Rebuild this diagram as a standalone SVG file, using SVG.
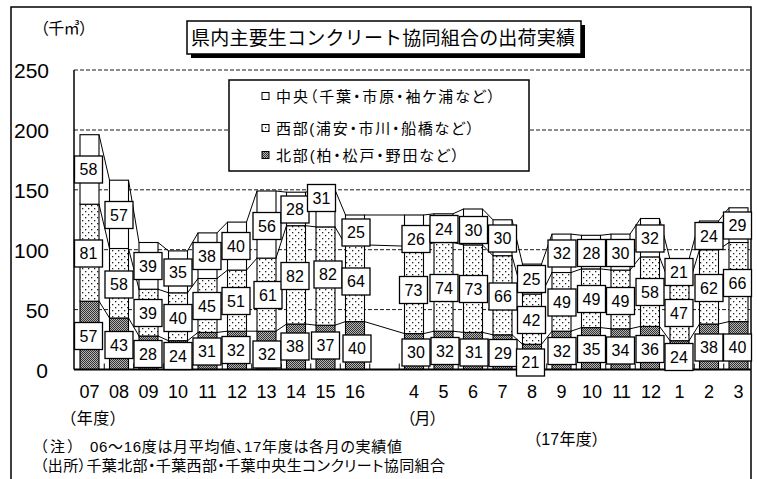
<svg xmlns="http://www.w3.org/2000/svg" width="757" height="479" viewBox="0 0 757 479">
<style>
.jp{font-family:"Liberation Sans","Noto Sans CJK JP",sans-serif;fill:#000}
.pa{font-feature-settings:"palt"}
.ax{font-family:"Liberation Sans",Arial,sans-serif;fill:#000}
.grid{stroke:#000;stroke-width:0.9;stroke-dasharray:4 2;fill:none}
.bar rect{stroke:#000;stroke-width:1.1}
.d{fill:url(#hatch)}
.m{fill:url(#dots)}
.w{fill:#fff}
.lb rect{fill:#fff;stroke:#000;stroke-width:1.3}
.lb text{font-family:"Liberation Sans",Arial,sans-serif;font-size:16px;text-anchor:middle;fill:#000}
.sl{stroke:#000;stroke-width:1;fill:none}
</style>
<defs>
<pattern id="dots" width="6" height="6" patternUnits="userSpaceOnUse">
<rect width="6" height="6" fill="#fff"/>
<rect x="1" y="1" width="1.3" height="1.3" fill="#222"/>
<rect x="4" y="4" width="1.3" height="1.3" fill="#222"/>
</pattern>
<pattern id="hatch" width="2" height="2" patternUnits="userSpaceOnUse">
<rect width="2" height="2" fill="#b4b4b4"/>
<rect width="1" height="1" fill="#333"/>
<rect x="1" y="1" width="1" height="1" fill="#333"/>
</pattern>
</defs>
<rect x="0" y="0" width="757" height="479" fill="#fff"/>
<rect x="11" y="7" width="740" height="490" fill="#fff" stroke="#000" stroke-width="1.5"/>

<!-- gridlines -->
<g id="gridlines">
<line class="grid" x1="74" y1="70" x2="751" y2="70"/>
<line class="grid" x1="74" y1="130" x2="751" y2="130"/>
<line class="grid" x1="74" y1="189.8" x2="751" y2="189.8"/>
<line class="grid" x1="74" y1="249.7" x2="751" y2="249.7"/>
<line class="grid" x1="74" y1="309.6" x2="751" y2="309.6"/>
</g>

<!-- unit and y labels -->
<text class="jp" x="33" y="34" font-size="16" textLength="62">（千㎥）</text>
<g class="ax" font-size="21" text-anchor="end">
<text x="49" y="78">250</text>
<text x="49" y="138">200</text>
<text x="49" y="197.5">150</text>
<text x="49" y="257.5">100</text>
<text x="49" y="317.5">50</text>
<text x="48" y="377.5">0</text>
</g>

<!-- title -->
<g id="title">
<rect x="191" y="25" width="394" height="33" fill="#000"/>
<rect x="187" y="21" width="394" height="33" fill="#fff" stroke="#000" stroke-width="1.5"/>
<text class="jp" x="191" y="44.7" font-size="19" textLength="384">県内主要生コンクリート協同組合の出荷実績</text>
</g>

<!-- legend -->
<g id="legend">
<rect x="229" y="80" width="300" height="91" fill="#fff" stroke="#000" stroke-width="1.5"/>
<rect x="262" y="92.5" width="7" height="7" fill="#fff" stroke="#000" stroke-width="1"/>
<text class="jp pa" x="276" y="101.5" font-size="15" textLength="219">中央（千葉・市原・袖ケ浦など）</text>
<rect x="262" y="124.5" width="7" height="7" fill="url(#dots)" stroke="#000" stroke-width="1"/>
<text class="jp pa" x="276" y="133.5" font-size="15" textLength="198">西部(浦安・市川・船橋など）</text>
<rect x="262" y="151.5" width="7" height="7" fill="url(#hatch)" stroke="#000" stroke-width="1"/>
<text class="jp pa" x="276" y="160.5" font-size="15" textLength="183">北部(柏・松戸・野田など）</text>
</g>

<!-- bars -->
<g class="bar">
<g id="bar-07"><rect class="d" x="80" y="301.2" width="19" height="68.3"/><rect class="m" x="80" y="204.2" width="19" height="97"/><rect class="w" x="80" y="134.7" width="19" height="69.5"/></g>
<g id="bar-08"><rect class="d" x="109.5" y="318" width="19" height="51.5"/><rect class="m" x="109.5" y="248.5" width="19" height="69.5"/><rect class="w" x="109.5" y="180.2" width="19" height="68.3"/></g>
<g id="bar-09"><rect class="d" x="139" y="336" width="19" height="33.5"/><rect class="m" x="139" y="289.2" width="19" height="46.8"/><rect class="w" x="139" y="242.5" width="19" height="46.7"/></g>
<g id="bar-10"><rect class="d" x="168.5" y="340.7" width="19" height="28.8"/><rect class="m" x="168.5" y="292.8" width="19" height="47.9"/><rect class="w" x="168.5" y="250.9" width="19" height="41.9"/></g>
<g id="bar-11"><rect class="d" x="198" y="332.4" width="19" height="37.1"/><rect class="m" x="198" y="278.5" width="19" height="53.9"/><rect class="w" x="198" y="232.9" width="19" height="45.6"/></g>
<g id="bar-12"><rect class="d" x="227.5" y="331.2" width="19" height="38.3"/><rect class="m" x="227.5" y="270.1" width="19" height="61.1"/><rect class="w" x="227.5" y="222.1" width="19" height="48"/></g>
<g id="bar-13"><rect class="d" x="257" y="331.2" width="19" height="38.3"/><rect class="m" x="257" y="258.1" width="19" height="73.1"/><rect class="w" x="257" y="191" width="19" height="67.1"/></g>
<g id="bar-14"><rect class="d" x="286.5" y="324" width="19" height="45.5"/><rect class="m" x="286.5" y="225.7" width="19" height="98.3"/><rect class="w" x="286.5" y="192.2" width="19" height="33.5"/></g>
<g id="bar-15"><rect class="d" x="316" y="325.2" width="19" height="44.3"/><rect class="m" x="316" y="226.9" width="19" height="98.3"/><rect class="w" x="316" y="189.8" width="19" height="37.1"/></g>
<g id="bar-16"><rect class="d" x="345.5" y="321.6" width="19" height="47.9"/><rect class="m" x="345.5" y="244.9" width="19" height="76.7"/><rect class="w" x="345.5" y="215" width="19" height="29.9"/></g>
<g id="bar-m04"><rect class="d" x="404.5" y="333.6" width="19" height="35.9"/><rect class="m" x="404.5" y="246.1" width="19" height="87.5"/><rect class="w" x="404.5" y="215" width="19" height="31.1"/></g>
<g id="bar-m05"><rect class="d" x="434" y="331.2" width="19" height="38.3"/><rect class="m" x="434" y="242.5" width="19" height="88.7"/><rect class="w" x="434" y="213.8" width="19" height="28.7"/></g>
<g id="bar-m06"><rect class="d" x="463.5" y="332.4" width="19" height="37.1"/><rect class="m" x="463.5" y="244.9" width="19" height="87.5"/><rect class="w" x="463.5" y="209" width="19" height="35.9"/></g>
<g id="bar-m07"><rect class="d" x="493" y="334.8" width="19" height="34.7"/><rect class="m" x="493" y="255.7" width="19" height="79.1"/><rect class="w" x="493" y="219.8" width="19" height="35.9"/></g>
<g id="bar-m08"><rect class="d" x="522.5" y="344.3" width="19" height="25.2"/><rect class="m" x="522.5" y="294" width="19" height="50.3"/><rect class="w" x="522.5" y="264.1" width="19" height="29.9"/></g>
<g id="bar-m09"><rect class="d" x="552" y="331.2" width="19" height="38.3"/><rect class="m" x="552" y="272.5" width="19" height="58.7"/><rect class="w" x="552" y="234.1" width="19" height="38.4"/></g>
<g id="bar-m10"><rect class="d" x="581.5" y="327.6" width="19" height="41.9"/><rect class="m" x="581.5" y="268.9" width="19" height="58.7"/><rect class="w" x="581.5" y="235.3" width="19" height="33.6"/></g>
<g id="bar-m11"><rect class="d" x="611" y="328.8" width="19" height="40.7"/><rect class="m" x="611" y="270.1" width="19" height="58.7"/><rect class="w" x="611" y="234.1" width="19" height="36"/></g>
<g id="bar-m12"><rect class="d" x="640.5" y="326.4" width="19" height="43.1"/><rect class="m" x="640.5" y="256.9" width="19" height="69.5"/><rect class="w" x="640.5" y="218.5" width="19" height="38.4"/></g>
<g id="bar-m01"><rect class="d" x="670" y="340.7" width="19" height="28.8"/><rect class="m" x="670" y="284.4" width="19" height="56.3"/><rect class="w" x="670" y="259.3" width="19" height="25.1"/></g>
<g id="bar-m02"><rect class="d" x="699.5" y="324" width="19" height="45.5"/><rect class="m" x="699.5" y="249.7" width="19" height="74.3"/><rect class="w" x="699.5" y="221" width="19" height="28.7"/></g>
<g id="bar-m03"><rect class="d" x="729" y="321.6" width="19" height="47.9"/><rect class="m" x="729" y="242.5" width="19" height="79.1"/><rect class="w" x="729" y="207.8" width="19" height="34.7"/></g>
</g>

<!-- connectors: series lines -->
<g id="connectors" class="sl">
<path d="M99,134.7L109.5,180.2M128.5,180.2L139,242.5M158,242.5L168.5,250.9M187.5,250.9L198,232.9M217,232.9L227.5,222.1M246.5,222.1L257,191M276,191L286.5,192.2M305.5,192.2L316,189.8M335,189.8L345.5,215M364.5,215L404.5,215M423.5,215L434,213.8M453,213.8L463.5,209M482.5,209L493,219.8M512,219.8L522.5,264.1M541.5,264.1L552,234.1M571,234.1L581.5,235.3M600.5,235.3L611,234.1M630,234.1L640.5,218.5M659.5,218.5L670,259.3M689,259.3L699.5,221M718.5,221L729,207.8"/>
<path d="M99,204.2L109.5,248.5M128.5,248.5L139,289.2M158,289.2L168.5,292.8M187.5,292.8L198,278.5M217,278.5L227.5,270.1M246.5,270.1L257,258.1M276,258.1L286.5,225.7M305.5,225.7L316,226.9M335,226.9L345.5,244.9M364.5,244.9L404.5,246.1M423.5,246.1L434,242.5M453,242.5L463.5,244.9M482.5,244.9L493,255.7M512,255.7L522.5,294M541.5,294L552,272.5M571,272.5L581.5,268.9M600.5,268.9L611,270.1M630,270.1L640.5,256.9M659.5,256.9L670,284.4M689,284.4L699.5,249.7M718.5,249.7L729,242.5"/>
<path d="M99,301.2L109.5,318M128.5,318L139,336M158,336L168.5,340.7M187.5,340.7L198,332.4M217,332.4L227.5,331.2M246.5,331.2L257,331.2M276,331.2L286.5,324M305.5,324L316,325.2M335,325.2L345.5,321.6M364.5,321.6L404.5,333.6M423.5,333.6L434,331.2M453,331.2L463.5,332.4M482.5,332.4L493,334.8M512,334.8L522.5,344.3M541.5,344.3L552,331.2M571,331.2L581.5,327.6M600.5,327.6L611,328.8M630,328.8L640.5,326.4M659.5,326.4L670,340.7M689,340.7L699.5,324M718.5,324L729,321.6"/>
</g>

<!-- axes -->
<g id="axes" stroke="#000" fill="none">
<line x1="74" y1="70" x2="74" y2="369.5" stroke-width="1.5"/>
<line x1="74" y1="369.5" x2="751" y2="369.5" stroke-width="1.8"/>
<path stroke-width="1" d="M104.25,369.5v-6M133.75,369.5v-6M163.25,369.5v-6M192.75,369.5v-6M222.25,369.5v-6M251.75,369.5v-6M281.25,369.5v-6M310.75,369.5v-6M340.25,369.5v-6M369.75,369.5v-6M399.25,369.5v-6M428.75,369.5v-6M458.25,369.5v-6M487.75,369.5v-6M517.25,369.5v-6M546.75,369.5v-6M576.25,369.5v-6M605.75,369.5v-6M635.25,369.5v-6M664.75,369.5v-6M694.25,369.5v-6M723.75,369.5v-6"/>
</g>

<!-- data labels -->
<g class="lb">
<g id="lbl-07"><rect x="74.5" y="156" width="28" height="27"/><text x="88.5" y="175.2">58</text><rect x="74.5" y="240" width="28" height="27"/><text x="88.5" y="259.2">81</text><rect x="74.5" y="322.5" width="28" height="27"/><text x="88.5" y="341.7">57</text></g>
<g id="lbl-08"><rect x="105" y="201.5" width="28" height="27"/><text x="119" y="220.7">57</text><rect x="105" y="271" width="28" height="27"/><text x="119" y="290.2">58</text><rect x="105" y="331.5" width="28" height="27"/><text x="119" y="350.7">43</text></g>
<g id="lbl-09"><rect x="134" y="252.5" width="28" height="27"/><text x="148" y="271.7">39</text><rect x="134" y="299.5" width="28" height="27"/><text x="148" y="318.7">39</text><rect x="134" y="340.5" width="28" height="27"/><text x="148" y="359.7">28</text></g>
<g id="lbl-10"><rect x="164" y="259" width="28" height="27"/><text x="178" y="278.2">35</text><rect x="164" y="304.5" width="28" height="27"/><text x="178" y="323.7">40</text><rect x="164" y="342.5" width="28" height="27"/><text x="178" y="361.7">24</text></g>
<g id="lbl-11"><rect x="193" y="242.5" width="28" height="27"/><text x="207" y="261.7">38</text><rect x="193" y="292.5" width="28" height="27"/><text x="207" y="311.7">45</text><rect x="193" y="338" width="28" height="27"/><text x="207" y="357.2">31</text></g>
<g id="lbl-12"><rect x="222" y="232.5" width="28" height="27"/><text x="236" y="251.7">40</text><rect x="222" y="287.5" width="28" height="27"/><text x="236" y="306.7">51</text><rect x="222" y="336.5" width="28" height="27"/><text x="236" y="355.7">32</text></g>
<g id="lbl-13"><rect x="253" y="212.5" width="28" height="27"/><text x="267" y="231.7">56</text><rect x="254" y="281.5" width="28" height="27"/><text x="268" y="300.7">61</text><rect x="253" y="341" width="28" height="27"/><text x="267" y="360.2">32</text></g>
<g id="lbl-14"><rect x="281" y="196" width="28" height="27"/><text x="295" y="215.2">28</text><rect x="281" y="262.5" width="28" height="27"/><text x="295" y="281.7">82</text><rect x="281" y="333" width="28" height="27"/><text x="295" y="352.2">38</text></g>
<g id="lbl-15"><rect x="307.5" y="184.5" width="28" height="27"/><text x="321.5" y="203.7">31</text><rect x="314" y="261" width="28" height="27"/><text x="328" y="280.2">82</text><rect x="311.5" y="332" width="28" height="27"/><text x="325.5" y="351.2">37</text></g>
<g id="lbl-16"><rect x="342" y="219" width="28" height="27"/><text x="356" y="238.2">25</text><rect x="342" y="268" width="28" height="27"/><text x="356" y="287.2">64</text><rect x="343" y="335" width="28" height="27"/><text x="357" y="354.2">40</text></g>
<g id="lbl-m04"><rect x="402" y="225.5" width="28" height="27"/><text x="416" y="244.7">26</text><rect x="399.5" y="276.5" width="28" height="27"/><text x="413.5" y="295.7">73</text><rect x="402" y="339" width="28" height="27"/><text x="416" y="358.2">30</text></g>
<g id="lbl-m05"><rect x="430" y="215.5" width="28" height="27"/><text x="444" y="234.7">24</text><rect x="430" y="274.5" width="28" height="27"/><text x="444" y="293.7">74</text><rect x="431" y="337.5" width="28" height="27"/><text x="445" y="356.7">32</text></g>
<g id="lbl-m06"><rect x="459.5" y="216.5" width="28" height="27"/><text x="473.5" y="235.7">30</text><rect x="459.5" y="275.5" width="28" height="27"/><text x="473.5" y="294.7">73</text><rect x="460" y="339" width="28" height="27"/><text x="474" y="358.2">31</text></g>
<g id="lbl-m07"><rect x="488.5" y="225" width="28" height="27"/><text x="502.5" y="244.2">30</text><rect x="489" y="283" width="28" height="27"/><text x="503" y="302.2">66</text><rect x="489" y="339.5" width="28" height="27"/><text x="503" y="358.7">29</text></g>
<g id="lbl-m08"><rect x="517.5" y="265.5" width="28" height="27"/><text x="531.5" y="284.7">25</text><rect x="517.5" y="306.5" width="28" height="27"/><text x="531.5" y="325.7">42</text><rect x="516.5" y="349" width="28" height="27"/><text x="530.5" y="368.2">21</text></g>
<g id="lbl-m09"><rect x="548" y="240" width="28" height="27"/><text x="562" y="259.2">32</text><rect x="548" y="289" width="28" height="27"/><text x="562" y="308.2">49</text><rect x="548" y="337.5" width="28" height="27"/><text x="562" y="356.7">32</text></g>
<g id="lbl-m10"><rect x="577.5" y="239.5" width="28" height="27"/><text x="591.5" y="258.7">28</text><rect x="577.5" y="285.5" width="28" height="27"/><text x="591.5" y="304.7">49</text><rect x="577.5" y="335.5" width="28" height="27"/><text x="591.5" y="354.7">35</text></g>
<g id="lbl-m11"><rect x="606.5" y="239.5" width="28" height="27"/><text x="620.5" y="258.7">30</text><rect x="606.5" y="287.5" width="28" height="27"/><text x="620.5" y="306.7">49</text><rect x="606.5" y="337" width="28" height="27"/><text x="620.5" y="356.2">34</text></g>
<g id="lbl-m12"><rect x="636" y="225" width="28" height="27"/><text x="650" y="244.2">32</text><rect x="636" y="278.5" width="28" height="27"/><text x="650" y="297.7">58</text><rect x="636" y="335.5" width="28" height="27"/><text x="650" y="354.7">36</text></g>
<g id="lbl-m01"><rect x="665" y="258.5" width="28" height="27"/><text x="679" y="277.7">21</text><rect x="665" y="299.5" width="28" height="27"/><text x="679" y="318.7">47</text><rect x="665" y="343.5" width="28" height="27"/><text x="679" y="362.7">24</text></g>
<g id="lbl-m02"><rect x="695" y="222.5" width="28" height="27"/><text x="709" y="241.7">24</text><rect x="695" y="274.5" width="28" height="27"/><text x="709" y="293.7">62</text><rect x="695" y="334" width="28" height="27"/><text x="709" y="353.2">38</text></g>
<g id="lbl-m03"><rect x="723.5" y="212" width="28" height="27"/><text x="737.5" y="231.2">29</text><rect x="723.5" y="269.5" width="28" height="27"/><text x="737.5" y="288.7">66</text><rect x="723.5" y="334" width="28" height="27"/><text x="737.5" y="353.2">40</text></g>
</g>

<!-- x labels -->
<g class="ax" font-size="18" text-anchor="middle">
<text x="89.5" y="397.5">07</text><text x="119" y="397.5">08</text><text x="148.5" y="397.5">09</text><text x="178" y="397.5">10</text><text x="207.5" y="397.5">11</text><text x="237" y="397.5">12</text><text x="266.5" y="397.5">13</text><text x="296" y="397.5">14</text><text x="325.5" y="397.5">15</text><text x="355" y="397.5">16</text>
<text x="414" y="397.5">4</text><text x="443.5" y="397.5">5</text><text x="473" y="397.5">6</text><text x="502.5" y="397.5">7</text><text x="532" y="397.5">8</text><text x="561.5" y="397.5">9</text><text x="592" y="397.5">10</text><text x="621.5" y="397.5">11</text><text x="651" y="397.5">12</text><text x="679.5" y="397.5">1</text><text x="709" y="397.5">2</text><text x="738.5" y="397.5">3</text>
</g>
<text class="jp pa" x="68" y="424" font-size="16" textLength="50">（年度）</text>
<text class="jp pa" x="407" y="424" font-size="16" textLength="31">（月）</text>
<text class="jp pa" x="533" y="445" font-size="16" textLength="67">（17年度）</text>
<text class="jp pa" x="40" y="451.7" font-size="15" textLength="35">（注）</text>
<text class="jp pa" x="90" y="451.7" font-size="15" textLength="312">06〜16度は月平均値、17年度は各月の実績値</text>
<text class="jp pa" x="40" y="470.7" font-size="15" textLength="405">（出所）千葉北部・千葉西部・千葉中央生コンクリート協同組合</text>
</svg>
